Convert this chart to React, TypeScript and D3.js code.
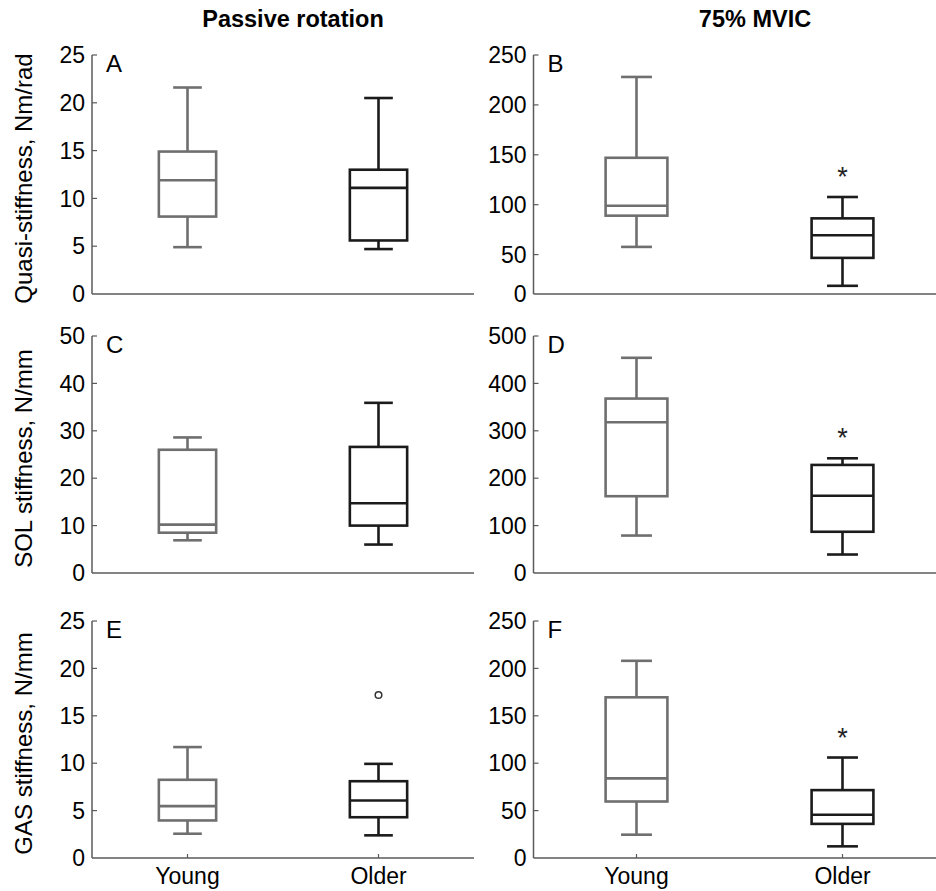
import React, { useEffect, useRef } from 'react';
import * as d3 from 'd3';

// five-number summaries: [low whisker, q1, median, q3, high whisker]
const groups = ['Young', 'Older'];

const quasiPassiveYoung = [4.9, 8.1, 11.9, 14.9, 21.6];
const quasiPassiveOlder = [4.7, 5.6, 11.1, 13.0, 20.5];
const quasiMvicYoung = [57.7, 89, 99, 147, 228];
const quasiMvicOlder = [18.7, 46.7, 69.3, 86.3, 107.7];

const solPassiveYoung = [6.9, 8.5, 10.2, 26.0, 28.6];
const solPassiveOlder = [6.0, 10.0, 14.7, 26.6, 35.9];
const solMvicYoung = [79, 162, 318, 368, 454];
const solMvicOlder = [39, 87, 163, 228, 242];

const gasPassiveYoung = [2.56, 3.96, 5.47, 8.25, 11.7];
const gasPassiveOlder = [2.39, 4.3, 6.07, 8.1, 9.93];
const gasPassiveOlderOutliers = [17.2];
const gasMvicYoung = [24.6, 59.6, 84, 169.5, 208];
const gasMvicOlder = [12.3, 36, 45.6, 71.6, 106];

const ticks25 = [0, 5, 10, 15, 20, 25];
const ticks50 = [0, 10, 20, 30, 40, 50];
const ticks250 = [0, 50, 100, 150, 200, 250];
const ticks500 = [0, 100, 200, 300, 400, 500];

const columnTitles = ['Passive rotation', '75% MVIC'];
const rowTitles = ['Quasi-stiffness, Nm/rad', 'SOL stiffness, N/mm', 'GAS stiffness, N/mm'];

const YOUNG = '#6f6f6f';
const OLDER = '#1b1b1b';
const AXIS = '#5a5a5a';
const FONT = '"Liberation Sans", Arial, Helvetica, sans-serif';

const cols = [{ x: 92, w: 382, title: 293 }, { x: 533.5, w: 412, title: 755 }];
const rows = [{ top: 55, bottom: 294 }, { top: 336, bottom: 573 }, { top: 621, bottom: 858 }];

const panels = [
  { letter: 'A', row: 0, col: 0, domain: [0, 25], ticks: ticks25, data: [quasiPassiveYoung, quasiPassiveOlder], star: false, outliers: [[], []] },
  { letter: 'B', row: 0, col: 1, domain: [10.5, 250], ticks: ticks250, data: [quasiMvicYoung, quasiMvicOlder], star: true, outliers: [[], []] },
  { letter: 'C', row: 1, col: 0, domain: [0, 50], ticks: ticks50, data: [solPassiveYoung, solPassiveOlder], star: false, outliers: [[], []] },
  { letter: 'D', row: 1, col: 1, domain: [0, 500], ticks: ticks500, data: [solMvicYoung, solMvicOlder], star: true, outliers: [[], []] },
  { letter: 'E', row: 2, col: 0, domain: [0, 25], ticks: ticks25, data: [gasPassiveYoung, gasPassiveOlder], star: false, outliers: [[], gasPassiveOlderOutliers] },
  { letter: 'F', row: 2, col: 1, domain: [0, 250], ticks: ticks250, data: [gasMvicYoung, gasMvicOlder], star: true, outliers: [[], []] },
];

export default function App() {
  const ref = useRef<SVGSVGElement>(null);

  useEffect(() => {
    const svg = d3.select(ref.current);
    svg.selectAll('*').remove();

    columnTitles.forEach((t, i) => {
      svg.append('text')
        .attr('x', cols[i].title)
        .attr('y', 27)
        .attr('text-anchor', 'middle')
        .style('font-weight', 'bold')
        .style('font-size', '23.5px')
        .text(t);
    });

    rowTitles.forEach((t, i) => {
      const cy = (rows[i].top + rows[i].bottom) / 2 + 4;
      svg.append('text')
        .attr('transform', 'translate(32,' + cy + ') rotate(-90)')
        .attr('text-anchor', 'middle')
        .style('font-size', '24px')
        .text(t);
    });

    panels.forEach(p => {
      const c = cols[p.col];
      const r = rows[p.row];
      const x = d3.scaleLinear().domain([0.5, 2.5]).range([c.x, c.x + c.w]);
      const y = d3.scaleLinear().domain(p.domain).range([r.bottom, r.top]);
      const g = svg.append('g');

      // axes
      g.append('line')
        .attr('x1', c.x).attr('x2', c.x)
        .attr('y1', r.top).attr('y2', r.bottom)
        .attr('stroke', AXIS).attr('stroke-width', 1.5);
      g.append('line')
        .attr('x1', c.x).attr('x2', c.x + c.w)
        .attr('y1', r.bottom).attr('y2', r.bottom)
        .attr('stroke', AXIS).attr('stroke-width', 1.5);

      // y ticks; lowest label sits on the baseline
      p.ticks.forEach((t, i) => {
        const ty = i === 0 ? y(p.domain[0]) : y(t);
        if (i > 0) {
          g.append('line')
            .attr('x1', c.x).attr('x2', c.x + 5)
            .attr('y1', ty).attr('y2', ty)
            .attr('stroke', AXIS).attr('stroke-width', 1.2);
        }
        g.append('text')
          .attr('x', c.x - 7)
          .attr('y', ty)
          .attr('dy', '0.36em')
          .attr('text-anchor', 'end')
          .style('font-size', '23px')
          .text(t);
      });

      g.append('text')
        .attr('x', c.x + 14)
        .attr('y', r.top + 17)
        .style('font-size', '24px')
        .text(p.letter);

      const boxW = x(1.15) - x(1);
      const capW = x(1.075) - x(1);

      p.data.forEach((d, i) => {
        const cx = x(i + 1);
        const color = i === 0 ? YOUNG : OLDER;
        const [lo, q1, med, q3, hi] = d;
        const bg = g.append('g').attr('stroke', color).attr('stroke-width', 2.6).attr('fill', 'none');
        bg.append('line').attr('x1', cx).attr('x2', cx).attr('y1', y(q3)).attr('y2', y(hi));
        bg.append('line').attr('x1', cx).attr('x2', cx).attr('y1', y(q1)).attr('y2', y(lo));
        bg.append('line').attr('x1', cx - capW).attr('x2', cx + capW).attr('y1', y(hi)).attr('y2', y(hi));
        bg.append('line').attr('x1', cx - capW).attr('x2', cx + capW).attr('y1', y(lo)).attr('y2', y(lo));
        bg.append('rect')
          .attr('x', cx - boxW).attr('width', boxW * 2)
          .attr('y', y(q3)).attr('height', y(q1) - y(q3));
        bg.append('line').attr('x1', cx - boxW).attr('x2', cx + boxW).attr('y1', y(med)).attr('y2', y(med));

        p.outliers[i].forEach(o => {
          g.append('circle')
            .attr('cx', cx).attr('cy', y(o)).attr('r', 3.3)
            .attr('fill', 'none').attr('stroke', '#333').attr('stroke-width', 1.5);
        });

        if (p.star && i === 1) {
          g.append('text')
            .attr('x', cx)
            .attr('y', y(hi) - 11)
            .attr('text-anchor', 'middle')
            .style('font-size', '27px')
            .attr('fill', '#222')
            .text('*');
        }

        if (p.row === 2) {
          g.append('line')
            .attr('x1', cx).attr('x2', cx)
            .attr('y1', r.bottom).attr('y2', r.bottom - 4)
            .attr('stroke', AXIS).attr('stroke-width', 1.2);
          g.append('text')
            .attr('x', cx)
            .attr('y', 884)
            .attr('text-anchor', 'middle')
            .style('font-size', '23px')
            .text(groups[i]);
        }
      });
    });
  }, []);

  return (
    <div style={{ position: 'absolute', left: 0, top: 0 }}>
      <svg ref={ref} width={936} height={891} style={{ display: 'block', fontFamily: FONT }} />
    </div>
  );
}
